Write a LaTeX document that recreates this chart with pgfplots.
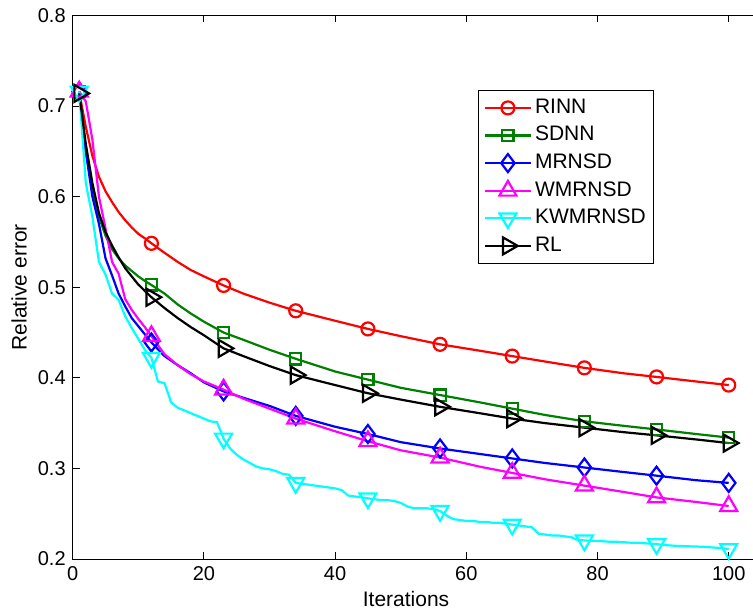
\documentclass[border=0pt]{standalone}
\usepackage{pgfplots}
\pgfplotsset{compat=1.18}
\usepackage{pgfplotstable}
\usepackage{fontspec}
\setmainfont{Liberation Sans}
\definecolor{mgreen}{rgb}{0,0.5,0}
\definecolor{mred}{rgb}{1,0,0}
\definecolor{mblue}{rgb}{0,0,1}
\definecolor{mmagenta}{rgb}{1,0,1}
\definecolor{mcyan}{rgb}{0,1,1}
\definecolor{mblack}{rgb}{0,0,0}

\pgfplotstableread{
x rinn sdnn mrnsd wmrnsd rl
1 0.715 0.716 0.716 0.716 0.714
2 0.677 0.650 0.650 0.705 0.658
3 0.645 0.607 0.600 0.663 0.615
4 0.622 0.578 0.570 0.600 0.582
5 0.606 0.557 0.532 0.565 0.561
6 0.594 0.542 0.513 0.528 0.546
7 0.583 0.532 0.493 0.515 0.533
8 0.574 0.524 0.479 0.487 0.521
9 0.566 0.518 0.466 0.475 0.512
10 0.559 0.512 0.457 0.465 0.503
11 0.554 0.507 0.448 0.456 0.496
12 0.5485 0.5025 0.439 0.446 0.489
14 0.538 0.493 0.424 0.426 0.477
16 0.528 0.481 0.414 0.414 0.466
18 0.519 0.471 0.405 0.404 0.456
20 0.512 0.462 0.395 0.396 0.447
23 0.502 0.450 0.385 0.387 0.4325
26 0.493 0.442 0.378 0.377 0.424
30 0.483 0.431 0.369 0.366 0.413
34 0.474 0.421 0.358 0.355 0.403
40 0.463 0.407 0.346 0.341 0.392
45 0.454 0.398 0.338 0.330 0.383
50 0.446 0.389 0.329 0.320 0.376
56 0.437 0.381 0.322 0.312 0.368
62 0.430 0.373 0.316 0.302 0.361
67 0.424 0.366 0.311 0.295 0.355
72 0.418 0.359 0.306 0.288 0.350
78 0.411 0.352 0.301 0.281 0.345
84 0.405 0.347 0.296 0.274 0.340
89 0.401 0.343 0.292 0.268 0.3365
95 0.396 0.338 0.287 0.263 0.332
100 0.392 0.334 0.284 0.2585 0.328
}\maindata

\pgfplotstableread{
x kw
1 0.716
2 0.615
3 0.578
4 0.528
5 0.514
6 0.493
7 0.486
8 0.468
9 0.455
10 0.443
11 0.431
12 0.422
13 0.396
14 0.394
15 0.373
16 0.367
17 0.364
18 0.361
19 0.358
20 0.355
21 0.352
22 0.351
23 0.333
24 0.322
25 0.315
26 0.310
27 0.306
28 0.302
29 0.300
30 0.299
31 0.297
32 0.294
33 0.293
34 0.284
35 0.283
36 0.282
37 0.281
38 0.280
39 0.279
40 0.278
41 0.276
42 0.270
43 0.269
44 0.268
45 0.267
46 0.266
47 0.265
48 0.265
49 0.264
50 0.262
51 0.258
52 0.256
53 0.256
54 0.256
55 0.255
56 0.253
57 0.248
58 0.244
59 0.243
60 0.242
61 0.242
62 0.241
63 0.241
64 0.240
65 0.240
66 0.239
67 0.238
68 0.237
69 0.236
70 0.235
71 0.228
72 0.227
73 0.226
74 0.226
75 0.225
76 0.224
77 0.221
78 0.2205
79 0.220
80 0.220
81 0.2195
82 0.219
83 0.219
84 0.2185
85 0.218
86 0.218
87 0.2175
88 0.217
89 0.2165
90 0.2155
91 0.215
92 0.2145
93 0.2143
94 0.214
95 0.2138
96 0.2135
97 0.213
98 0.2125
99 0.212
100 0.211
}\kwdata

\begin{document}
\begin{tikzpicture}
\useasboundingbox (-36.35pt,-25pt) rectangle (340.15pt,279.5pt);
\begin{axis}[
  at={(0pt,0pt)}, anchor=south west,
  scale only axis, width=344.4pt, height=271.75pt,
  xmin=0, xmax=105, ymin=0.2, ymax=0.8,
  xtick={0,20,40,60,80,100},
  ytick={0.2,0.3,0.4,0.5,0.6,0.7,0.8},
  yticklabel style={/pgf/number format/.cd, fixed, precision=1},
  /pgf/number format/assume math mode=true,
  tick label style={font=\fontsize{10}{12}\selectfont},
  label style={font=\fontsize{10.5}{12.6}\selectfont},
  xlabel={Iterations},
  ylabel={Relative error},
  xlabel style={at={(axis description cs:0.4839,-0.0865)}, anchor=base},
  ylabel style={at={(axis description cs:-0.0777,0.5)}, anchor=center},
  tick align=inside,
  major tick length=3.5pt,
  axis line style={line width=0.5pt},
  every tick/.style={black, line width=0.5pt},
  legend image code/.code={\draw[#1, mark indices={2}] plot coordinates {(0pt,0pt) (11.5pt,0pt) (23pt,0pt)};},
  legend cell align=left,
  legend style={at={(axis description cs:0.8444,0.8629)}, anchor=north east,
    draw=black, line width=0.5pt, fill=white,
    font=\fontsize{10.5}{12.6}\selectfont,
    inner xsep=2.5pt, inner ysep=1.8pt,
    nodes={text height=7.6pt, text depth=2.2pt, inner ysep=2pt, inner xsep=1.5pt}},
]
\addplot[mred, line width=1.1pt, mark=o, mark size=3.25pt,
  mark indices={1,12,17,20,22,24,26,28,30,32}] table[x=x,y=rinn]{\maindata};
\addlegendentry{RINN}
\addplot[mgreen, line width=1.1pt, mark=square, mark size=2.8pt,
  mark indices={1,12,17,20,22,24,26,28,30,32}] table[x=x,y=sdnn]{\maindata};
\addlegendentry{SDNN}
\addplot[mblue, line width=1.1pt, mark=diamond, mark size=4.5pt,
  mark indices={1,12,17,20,22,24,26,28,30,32}] table[x=x,y=mrnsd]{\maindata};
\addlegendentry{MRNSD}
\addplot[mmagenta, line width=1.1pt, mark=triangle, mark size=4.9pt,
  mark indices={1,12,17,20,22,24,26,28,30,32}] table[x=x,y=wmrnsd]{\maindata};
\addlegendentry{WMRNSD}
\addplot[mcyan, line width=1.1pt, mark=triangle, mark size=4.9pt, mark options={rotate=180},
  mark indices={1,12,23,34,45,56,67,78,89,100}] table[x=x,y=kw]{\kwdata};
\addlegendentry{KWMRNSD}
\addplot[mblack, line width=1.1pt, mark=triangle, mark size=4.9pt, mark options={rotate=-90},
  mark indices={1,12,17,20,22,24,26,28,30,32}] table[x=x,y=rl]{\maindata};
\addlegendentry{RL}
\end{axis}
\end{tikzpicture}
\end{document}
